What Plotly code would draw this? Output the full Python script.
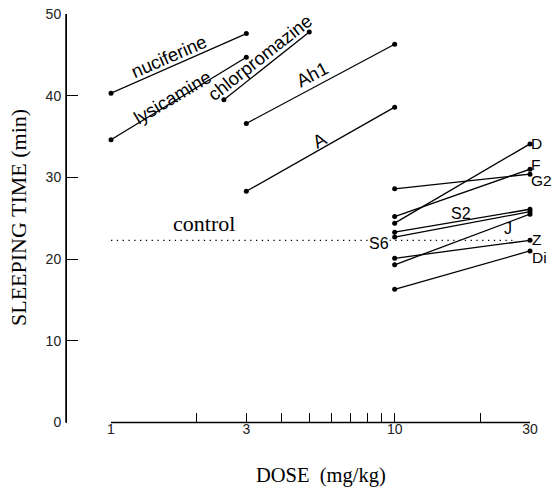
import math
import plotly.graph_objects as go

# ---- data ----
names = ["nuciferine", "lysicamine", "chlorpromazine", "Ah1", "A",
         "D", "F", "G2", "S2", "S6", "J", "Z", "Di"]
dose_low = [1, 1, 2.5, 3, 3, 10, 10, 10, 10, 10, 10, 10, 10]
dose_high = [3, 3, 5, 10, 10, 30, 30, 30, 30, 30, 30, 30, 30]
time_low = [40.3, 34.6, 39.5, 36.6, 28.3, 24.4, 25.2, 28.6, 23.3, 22.7, 19.3, 20.1, 16.3]
time_high = [47.6, 44.7, 47.8, 46.3, 38.6, 34.1, 31.0, 30.4, 26.1, 25.8, 25.5, 22.3, 21.0]

control_time = 22.3
control_dose = [1, 26]

x_tickvals = [1, 2, 3, 4, 5, 6, 7, 8, 9, 10, 20, 30]
x_ticktext = ["1", "", "3", "", "", "", "", "", "", "10", "", "30"]
y_tickvals = [0, 10, 20, 30, 40, 50]

W, H = 555, 491

X_DOM = [111 / W, 530 / W]
Y_DOM = [(H - 422.5) / H, (H - 14) / H]
YAX_POS = 66 / W


def px(x):
    return x / W


def py(y):
    return 1 - y / H


fig = go.Figure()

for n, x0, x1, y0, y1 in zip(names, dose_low, dose_high, time_low, time_high):
    fig.add_trace(go.Scatter(
        x=[x0, x1], y=[y0, y1], mode="lines+markers", name=n,
        line=dict(color="black", width=1.3),
        marker=dict(color="black", size=5),
        cliponaxis=False, showlegend=False, hoverinfo="skip"))

fig.add_trace(go.Scatter(
    x=control_dose, y=[control_time, control_time], mode="lines",
    line=dict(color="black", width=1.3, dash="1.3px,4.5px"),
    cliponaxis=False, showlegend=False, hoverinfo="skip"))

sans = "Liberation Sans"
serif = "Liberation Serif"


def ann(text, x, y, size, angle=0, family=sans, xanchor="center", bg=None):
    d = dict(text=text, x=px(x), y=py(y), xref="paper", yref="paper",
             showarrow=False, textangle=angle, xanchor=xanchor, yanchor="middle",
             font=dict(family=family, size=size, color="black"), borderpad=0)
    if bg:
        d["bgcolor"] = bg
    fig.add_annotation(**d)


ann("nuciferine", 169, 57, 18.5, -23.5)
ann("lysicamine", 172, 97, 18.5, -30.8)
ann("chlorpromazine", 260, 58, 18.5, -38.2)
ann("Ah1", 312, 75, 18.5, -27.9)
ann("A", 319, 140, 18.5, -29.5)
ann("D", 530, 143, 15.5, 0, xanchor="left")
ann("F", 530, 164, 15.5, 0, xanchor="left")
ann("G2", 530, 181, 15.5, 0, xanchor="left")
ann("S2", 461, 213, 16)
ann("J", 508, 229, 16)
ann("S6", 379, 243, 16, bg="white")
ann("Z", 531, 239, 15.5, 0, xanchor="left")
ann("Di", 531, 257, 15.5, 0, xanchor="left")
ann("control", 204, 223, 22, 0, family=serif)
ann("SLEEPING TIME (min)", 19, 218, 22, -90, family=serif)
ann("DOSE\u00a0 (mg/kg)", 320.5, 475, 20.5, 0, family=serif)

# axis lines: x axis spans the x domain at the bottom of the y domain,
# y axis stands free to the left of it
fig.add_shape(type="line", xref="paper", yref="paper", layer="above",
              x0=X_DOM[0], x1=X_DOM[1], y0=Y_DOM[0], y1=Y_DOM[0],
              line=dict(color="black", width=1.3))
fig.add_shape(type="line", xref="paper", yref="paper", layer="above",
              x0=YAX_POS, x1=YAX_POS, y0=Y_DOM[0], y1=Y_DOM[1],
              line=dict(color="black", width=1.5))

fig.update_layout(
    width=W, height=H,
    margin=dict(l=0, r=0, t=0, b=0),
    paper_bgcolor="white", plot_bgcolor="white",
    hovermode=False,
    xaxis=dict(
        type="log", range=[0, math.log10(30)],
        domain=X_DOM, anchor="y",
        showline=False,
        ticks="inside", ticklen=10, tickwidth=1.3, tickcolor="black",
        tickvals=x_tickvals, ticktext=x_ticktext,
        tickfont=dict(family=sans, size=14, color="#222"),
        ticklabelstandoff=-4, ticklabeloverflow="allow",
        showgrid=False, zeroline=False, automargin=False),
    yaxis=dict(
        range=[0, 50],
        domain=Y_DOM,
        anchor="free", position=YAX_POS,
        showline=True, linecolor="black", linewidth=1,
        ticks="inside", ticklen=11, tickwidth=1.3, tickcolor="black",
        tickvals=y_tickvals,
        tickfont=dict(family=sans, size=14, color="#222"),
        ticklabelstandoff=2, ticklabeloverflow="allow",
        showgrid=False, zeroline=False, automargin=False),
)

# remove the page's default 8px body margin so the figure fills the window
fig.write_html("out.html", config={"displayModeBar": False},
               post_script="document.body.style.margin='0px';")
